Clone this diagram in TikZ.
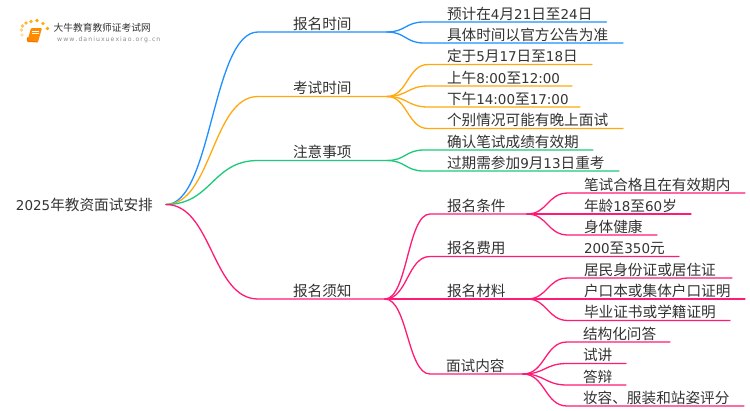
\documentclass[tikz,border=0pt]{standalone}
\usepackage{fontspec}
\setmainfont{Noto Sans CJK SC}
\newfontfamily\lat[Scale=0.92]{DejaVu Sans}
\newfontfamily\latu{DejaVu Sans}
\usetikzlibrary{calc}
\definecolor{cblue}{HTML}{1E90FF}
\definecolor{corange}{HTML}{FFA90F}
\definecolor{cgreen}{HTML}{1DC97C}
\definecolor{cpink}{HTML}{FF1A75}
\definecolor{ctext}{HTML}{333333}
\tikzset{
  lab/.style={anchor=base west,inner sep=0pt,outer sep=0pt,font=\fontsize{14.65}{14.65}\selectfont,text=ctext},
  wire/.style={line width=1.3pt,line cap=round},
}
% colour, name, parent, curve end x, line end x, y, text x, text
\newcommand\branch[8]{%
  \coordinate (#2c) at (#4,#6);
  \coordinate (#2e) at (#5,#6);
  \node[lab] (#2) at (#7,#6-3) {#8};
  \draw[wire,#1] (#3) .. controls ($(#3)!.5!(#2c |- #3)$) and ($(#2c)!.5!(#3 |- #2c)$) .. (#2c) -- (#2e);
}
\begin{document}
\begin{tikzpicture}[x=1pt,y=-1pt]
\useasboundingbox (0,0) rectangle (750,410);
\fill[white] (0,0) rectangle (750,410);
% logo
\foreach \dx/\dy/\op in {22/35/.35, 21.5/30/.5, 22.5/26/.7, 26/23/.8, 31/21.5/.9, 37/20.5/1, 43/23.5/.9, 47.5/28.5/1}{
  \fill[orange!70!yellow,opacity=\op] (\dx,\dy) circle (1.8pt);
}
\fill[orange!90!yellow,rounded corners=1pt] (31,28) -- (42,28) -- (38,42) -- (27,42) -- cycle;
\draw[orange!85!red,line width=.9pt,rounded corners=1pt] (28,37) -- (27,41) -- (38,42);
\draw[white,line width=.5pt] (32,31) -- (39,31) (31.5,33.5) -- (38.5,33.5);
\node[anchor=base west,inner sep=0pt,text=ctext,font=\fontsize{9.7}{10}\selectfont] (logotext) at (53.5,31.5) {大牛教育教师证考试网};
\node[anchor=base west,inner sep=0pt,text=black!45,font=\latu\fontsize{6.2}{7}\selectfont] (logourl) at (57,41.5) {w\,w\,w\,.\,d\,a\,n\,i\,u\,x\,u\,e\,x\,i\,a\,o\,.\,o\,r\,g\,.\,c\,n};
% root
\node[lab] (root) at (16,210) {{\lat 2025}年教资面试安排};
\coordinate (r) at (166,204.5);
% level 1
\branch{cblue}{a}{r}{258}{387}{32}{293}{报名时间}
\branch{corange}{b}{r}{258}{387}{96.5}{293}{考试时间}
\branch{cgreen}{c}{r}{258}{387}{160.5}{293}{注意事项}
\branch{cpink}{d}{r}{258}{387}{299}{293}{报名须知}
\coordinate (aj) at (387,32);
\coordinate (bj) at (387,96.5);
\coordinate (cj) at (387,160.5);
\coordinate (dj) at (385,299);
% blue
\branch{cblue}{a1}{aj}{424}{606.5}{22}{447}{预计在{\lat 4}月{\lat 21}日至{\lat 24}日}
\branch{cblue}{a2}{aj}{424}{623}{43}{447}{具体时间以官方公告为准}
% orange
\branch{corange}{b1}{bj}{428}{592}{64.5}{447}{定于{\lat 5}月{\lat 17}日至{\lat 18}日}
\branch{corange}{b2}{bj}{428}{572}{86}{447}{上午{\lat 8:00}至{\lat 12:00}}
\branch{corange}{b3}{bj}{428}{580}{107}{447}{下午{\lat 14:00}至{\lat 17:00}}
\branch{corange}{b4}{bj}{428}{623}{128.5}{447}{个别情况可能有晚上面试}
% green
\branch{cgreen}{c1}{cj}{424}{593}{150}{447}{确认笔试成绩有效期}
\branch{cgreen}{c2}{cj}{424}{619}{171}{447}{过期需参加{\lat 9}月{\lat 13}日重考}
% pink level 2
\branch{cpink}{d1}{dj}{430}{527}{214}{447}{报名条件}
\branch{cpink}{d2}{dj}{430}{679}{256.5}{447}{报名费用}
\branch{cpink}{d3}{dj}{430}{527}{299}{447}{报名材料}
\branch{cpink}{d4}{dj}{430}{525}{374}{446}{面试内容}
\coordinate (e) at (527,214);
\coordinate (f) at (527,299);
\coordinate (g) at (523,374);
\branch{cpink}{e1}{e}{568}{745}{193}{584}{笔试合格且在有效期内}
\branch{cpink}{e2}{e}{568}{691}{214}{584}{年龄{\lat 18}至{\lat 60}岁}
\branch{cpink}{e3}{e}{568}{657}{235}{584}{身体健康}
\node[lab] (fee) at (584,253.5) {{\lat 200}至{\lat 350}元};
\branch{cpink}{f1}{f}{568}{732}{278}{584}{居民身份证或居住证}
\branch{cpink}{f2}{f}{568}{745}{299}{584}{户口本或集体户口证明}
\branch{cpink}{f3}{f}{568}{730}{320.5}{584}{毕业证书或学籍证明}
\branch{cpink}{g1}{g}{567}{670}{342}{583}{结构化问答}
\branch{cpink}{g2}{g}{567}{626}{363.5}{583}{试讲}
\branch{cpink}{g3}{g}{567}{626}{385}{583}{答辩}
\branch{cpink}{g4}{g}{567}{744}{406}{583}{妆容、服装和站姿评分}
\end{tikzpicture}
\end{document}
